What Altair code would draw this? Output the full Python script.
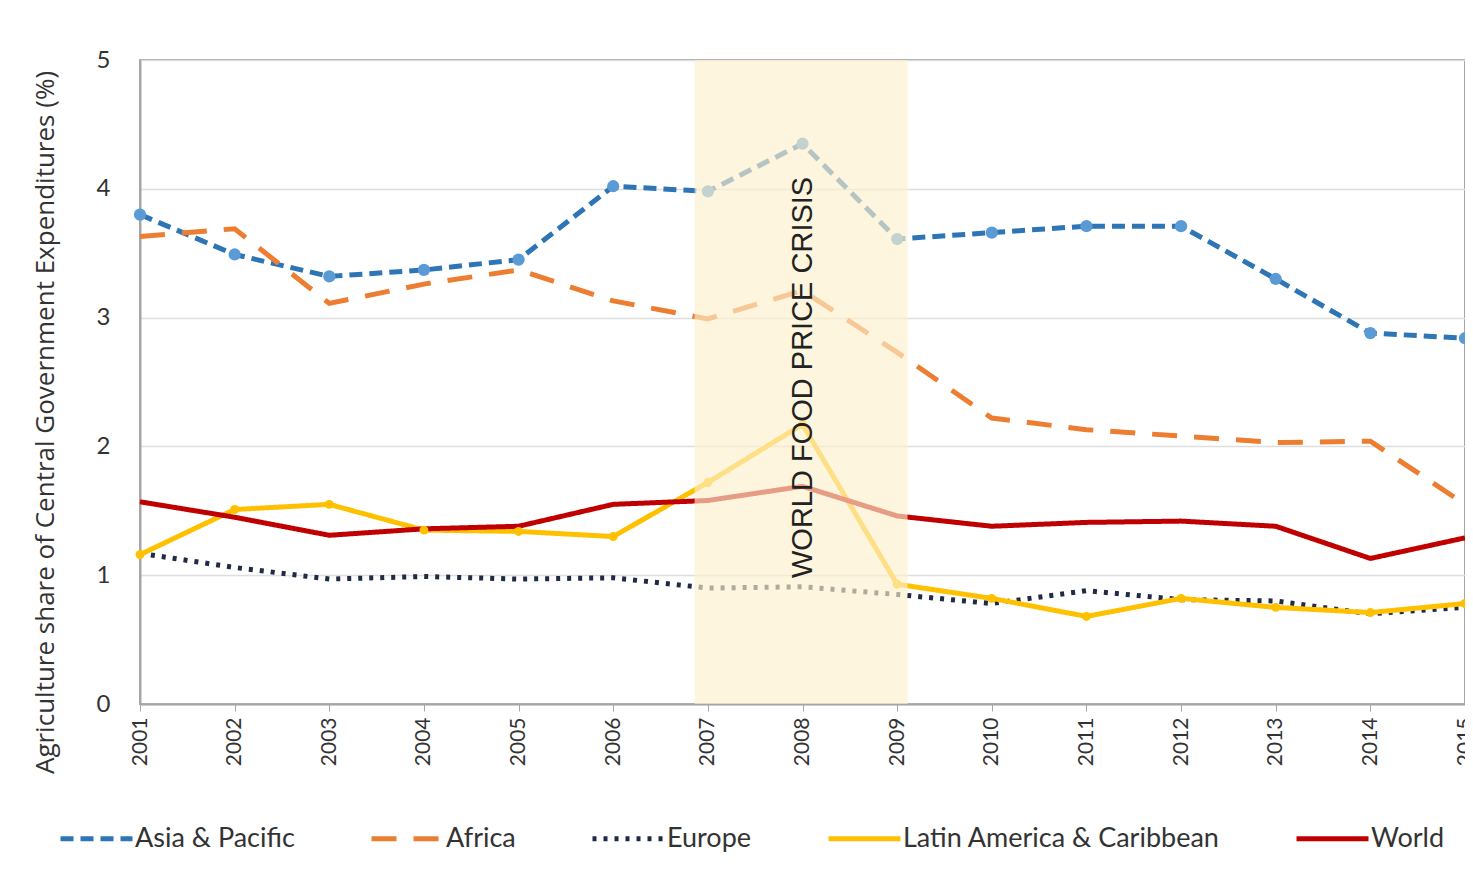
import altair as alt
import pandas as pd

years = list(range(2001, 2016))
series_names = ["Asia & Pacific", "Africa", "Europe", "Latin America & Caribbean", "World"]
asia = [3.80, 3.49, 3.32, 3.37, 3.45, 4.02, 3.98, 4.35, 3.61, 3.66, 3.71, 3.71, 3.30, 2.88, 2.84]
africa = [3.63, 3.69, 3.11, 3.26, 3.37, 3.13, 2.99, 3.21, 2.73, 2.22, 2.13, 2.08, 2.03, 2.04, 1.55]
europe = [1.17, 1.06, 0.97, 0.99, 0.97, 0.98, 0.90, 0.91, 0.85, 0.78, 0.88, 0.81, 0.80, 0.70, 0.75]
latin = [1.16, 1.51, 1.55, 1.35, 1.34, 1.30, 1.72, 2.17, 0.93, 0.82, 0.68, 0.82, 0.75, 0.71, 0.78]
world = [1.57, 1.45, 1.31, 1.36, 1.38, 1.55, 1.58, 1.69, 1.46, 1.38, 1.41, 1.42, 1.38, 1.13, 1.29]

colors = ["#2e75b6", "#ed7d31", "#1f2a44", "#ffc000", "#c00000"]
dashes = [[13, 7], [25, 17], [4, 7], [1, 0], [1, 0]]
widths = [5, 5, 4.5, 2.5, 6]

crisis_label = "WORLD FOOD PRICE CRISIS"
crisis_start, crisis_end = 2006.86, 2009.11

rows = []
for name, vals in zip(series_names, [asia, africa, europe, latin, world]):
    for yr, v in zip(years, vals):
        rows.append({"year": yr, "series": name, "value": v})
df = pd.DataFrame(rows)

x_enc = alt.X("year:Q", scale=alt.Scale(domain=[2001, 2015], nice=False, zero=False),
              axis=alt.Axis(values=years, format="d", labelAngle=270, title=None,
                            labelFontSize=21, labelFont="Lato", labelColor="#333",
                            tickSize=7, tickColor="#a6a6a6", labelPadding=6,
                            grid=False, domainColor="#a6a6a6", domainWidth=2,
                            labelAlign="right", labelBaseline="middle"))
y_enc = alt.Y("value:Q", scale=alt.Scale(domain=[0, 5], nice=False),
              axis=alt.Axis(values=[0, 1, 2, 3, 4, 5], format="d",
                            title="Agriculture share of Central Government Expenditures (%)",
                            titleFontSize=26, titleFont="Open Sans", titleFontWeight="normal", titleColor="#333",
                            titlePadding=38, titleY=362,
                            labelFontSize=24, labelFont="Lato", labelColor="#333",
                            labelPadding=30, ticks=False, grid=True, gridColor="#dedede", gridWidth=1.5,
                            domainColor="#a6a6a6", domainWidth=2))

color_scale = alt.Scale(domain=series_names, range=colors)
legend = alt.Legend(title=None, orient="none", legendX=-82, legendY=740, direction="horizontal",
                    columns=5, symbolType="stroke", symbolSize=5184, labelFontSize=27,
                    labelFont="Lato", labelColor="#333", columnPadding=66, labelOffset=0,
                    labelLimit=0)

lines = alt.Chart(df).mark_line().encode(
    x=x_enc, y=y_enc,
    color=alt.Color("series:N", scale=color_scale, legend=legend, sort=series_names),
    strokeDash=alt.StrokeDash("series:N", scale=alt.Scale(domain=series_names, range=dashes), legend=legend, sort=series_names),
    strokeWidth=alt.StrokeWidth("series:N", scale=alt.Scale(domain=series_names, range=widths), legend=legend, sort=series_names),
)

pts_df = df[df["series"].isin(["Asia & Pacific", "Latin America & Caribbean"])].copy()
pt_sizes = {"Asia & Pacific": 150, "Latin America & Caribbean": 80}
pts_df["psize"] = pts_df["series"].map(pt_sizes)
point_colors = {"Asia & Pacific": "#5b9bd5", "Latin America & Caribbean": "#ffc000"}
pts_df["pcolor"] = pts_df["series"].map(point_colors)
points = alt.Chart(pts_df).mark_circle(opacity=1).encode(
    x="year:Q", y="value:Q",
    color=alt.Color("pcolor:N", scale=None),
    size=alt.Size("psize:Q", scale=None),
)

band_df = pd.DataFrame({"start": [crisis_start], "end": [crisis_end], "lo": [0], "hi": [5]})
band = alt.Chart(band_df).mark_rect(color="#fcefcc", opacity=0.65).encode(
    x="start:Q", x2="end:Q", y="lo:Q", y2="hi:Q")

text_df = pd.DataFrame({"year": [2008], "value": [2.52], "label": [crisis_label]})
text = alt.Chart(text_df).mark_text(angle=270, align="center", baseline="middle", fontSize=29,
                                    font="Liberation Sans", color="#222", dx=2).encode(
    x="year:Q", y="value:Q", text="label:N")

chart = alt.layer(lines, points, band, text).properties(
    width=1325, height=644,
    autosize=alt.AutoSizeParams(type="none"),
    padding={"left": 132, "top": 52, "right": 0, "bottom": 155},
    background="white",
).configure_view(stroke="#a6a6a6", strokeWidth=2)

chart.save("out.html", embed_options={"renderer": "svg", "actions": False})
